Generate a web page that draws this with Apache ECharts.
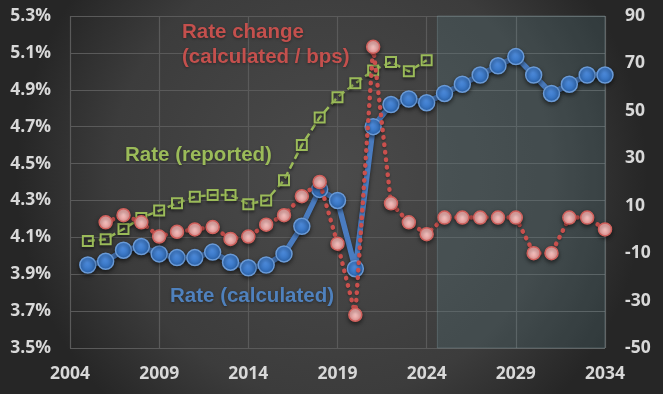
<!DOCTYPE html>
<html><head><meta charset="utf-8">
<script src="https://cdn.jsdelivr.net/npm/echarts@6/dist/echarts.min.js"></script>
<style>html,body{margin:0;padding:0;background:#333}#c{width:663px;height:394px}</style>
</head><body><div id="c"></div>
<script>
// Years
const calcYears = [2005,2006,2007,2008,2009,2010,2011,2012,2013,2014,2015,2016,2017,2018,2019,2020,2021,2022,2023,2024,2025,2026,2027,2028,2029,2030,2031,2032,2033,2034];
const rateCalculated = [3.95,3.97,4.03,4.05,4.01,3.99,3.99,4.02,3.965,3.935,3.95,4.01,4.16,4.36,4.30,3.93,4.70,4.82,4.85,4.83,4.88,4.93,4.98,5.03,5.08,4.98,4.88,4.93,4.98,4.98];
const reportedYears = [2005,2006,2007,2008,2009,2010,2011,2012,2013,2014,2015,2016,2017,2018,2019,2020,2021,2022,2023,2024];
const rateReported = [4.08,4.09,4.145,4.205,4.245,4.285,4.32,4.33,4.33,4.28,4.30,4.41,4.60,4.75,4.86,4.935,5.005,5.05,5.00,5.06];
const changeYears = [2006,2007,2008,2009,2010,2011,2012,2013,2014,2015,2016,2017,2018,2019,2020,2021,2022,2023,2024,2025,2026,2027,2028,2029,2030,2031,2032,2033,2034];
const rateChangeBps = [3,6,3,-3,-1,0,1,-4,-3,2,6,14,20,-6,-36,77,11,3,-2,5,5,5,5,5,-10,-10,5,5,0];
const forecastStart = 2024.6, forecastEnd = 2034.3;

const pairs = (xs, ys) => xs.map((x, i) => [x, ys[i]]);
const labelFont = {color:'#d8d8d8', fontFamily:'Open Sans', fontWeight:'bold', fontSize:17.5};

const chart = echarts.init(document.getElementById('c'));
chart.setOption({
  animation:false,
  backgroundColor:{type:'radial', x:0.5, y:0.45, r:0.8, colorStops:[{offset:0,color:'#4b4b4b'},{offset:0.7,color:'#3c3c3c'},{offset:1,color:'#262626'}]},
  grid:{left:70, right:58, top:16, bottom:46},
  xAxis:{type:'value', min:2004, max:2034, interval:5,
    axisLine:{show:false}, axisTick:{show:false},
    splitLine:{show:true, lineStyle:{color:'#5a5a5a', width:1.2}},
    axisLabel:Object.assign({margin:17, formatter:v=>String(Math.round(v))}, labelFont)},
  yAxis:[
    {type:'value', min:3.5, max:5.3, interval:0.2,
     axisLine:{show:false}, axisTick:{show:false},
     splitLine:{show:true, lineStyle:{color:'#5a5a5a', width:1.2}},
     axisLabel:Object.assign({margin:19, formatter:v=>v.toFixed(1)+'%'}, labelFont)},
    {type:'value', min:-50, max:90, interval:20, position:'right',
     axisLine:{show:false}, axisTick:{show:false}, splitLine:{show:false},
     axisLabel:Object.assign({margin:20, formatter:v=>String(Math.round(v))}, labelFont)}
  ],
  series:[
    {name:'Rate (calculated)', type:'line', yAxisIndex:0, data:pairs(calcYears, rateCalculated),
     symbol:'circle', symbolSize:16, z:2,
     lineStyle:{color:'#4a7cc0', width:5.5, shadowColor:'rgba(0,0,0,0.5)', shadowBlur:4, shadowOffsetY:2},
     itemStyle:{color:{type:'radial',x:0.45,y:0.35,r:0.6,colorStops:[{offset:0,color:'#4f8ee0'},{offset:1,color:'#2f6bb8'}]},
       borderColor:'#6a9ad6', borderWidth:1.5, shadowColor:'rgba(0,0,0,0.5)', shadowBlur:4, shadowOffsetY:2},
     markArea:{silent:true, itemStyle:{color:'rgba(95,140,150,0.2)', borderColor:'rgba(140,170,175,0.3)', borderWidth:1},
       data:[[{xAxis:forecastStart},{xAxis:forecastEnd}]]}},
    {name:'Rate (reported)', type:'line', yAxisIndex:0, data:pairs(reportedYears, rateReported),
     symbol:'rect', symbolSize:10, z:3,
     lineStyle:{color:'#9bbb59', width:2.5, type:[7,4], shadowColor:'rgba(0,0,0,0.5)', shadowBlur:3, shadowOffsetY:2},
     itemStyle:{color:'rgba(0,0,0,0)', borderColor:'#9bbb59', borderWidth:2, shadowColor:'rgba(0,0,0,0.5)', shadowBlur:3, shadowOffsetY:2}},
    {name:'Rate change', type:'line', yAxisIndex:1, data:pairs(changeYears, rateChangeBps),
     symbol:'circle', symbolSize:13, z:4,
     lineStyle:{color:'#c9504d', width:4.5, type:[0.5,7], cap:'round', shadowColor:'rgba(0,0,0,0.4)', shadowBlur:2, shadowOffsetY:1},
     itemStyle:{color:{type:'radial',x:0.5,y:0.45,r:0.6,colorStops:[{offset:0,color:'#f6c4c2'},{offset:1,color:'#e89492'}]},
       borderColor:'#d0605c', borderWidth:1.5, shadowColor:'rgba(0,0,0,0.5)', shadowBlur:4, shadowOffsetY:2}}
  ],
  graphic:[
    {type:'text', left:182, top:20, z:10, style:{text:'Rate change\n(calculated / bps)', fill:'#c4504d', font:'bold 20.5px "Liberation Sans"', lineHeight:25, textShadowColor:'rgba(0,0,0,0.4)', textShadowBlur:3, textShadowOffsetY:1}},
    {type:'text', left:125, top:145, z:10, style:{text:'Rate (reported)', fill:'#9bbb59', font:'bold 20.5px "Liberation Sans"', textShadowColor:'rgba(0,0,0,0.4)', textShadowBlur:3, textShadowOffsetY:1}},
    {type:'text', left:170, top:286, z:10, style:{text:'Rate (calculated)', fill:'#4f81bd', font:'bold 20.5px "Liberation Sans"', textShadowColor:'rgba(0,0,0,0.4)', textShadowBlur:3, textShadowOffsetY:1}}
  ]
});
</script></body></html>
